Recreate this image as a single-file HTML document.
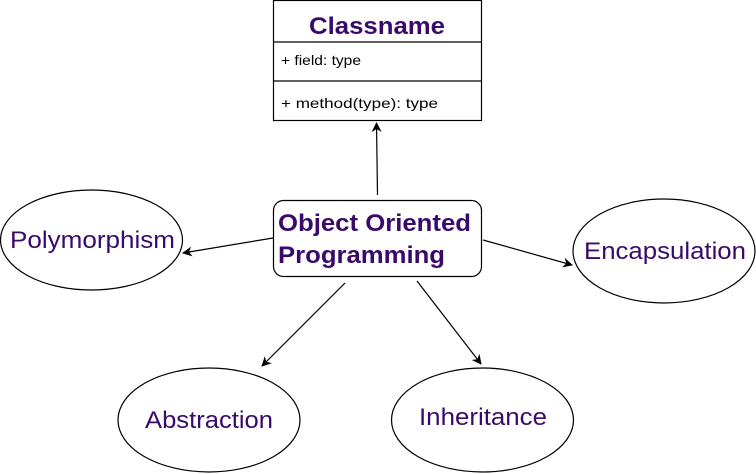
<!DOCTYPE html>
<html><head><meta charset="utf-8"><style>
html,body{margin:0;padding:0;background:#fff;width:756px;height:474px;overflow:hidden}
svg{display:block}
text{font-family:"Liberation Sans",Arial,sans-serif}
</style></head><body>
<svg width="756" height="474" viewBox="0 0 756 474" xmlns="http://www.w3.org/2000/svg">
<defs><marker id="a" markerWidth="10" markerHeight="10" refX="9" refY="5" orient="auto" markerUnits="userSpaceOnUse"><path d="M0,0 L10,5 L0,10 L3,5 Z" fill="#000"/></marker></defs>
<g fill="#fff" stroke="#000" stroke-width="1.2">
<rect x="273.5" y="0.5" width="208" height="120"/>
<line x1="273.5" y1="42" x2="481.5" y2="42"/>
<line x1="273.5" y1="81" x2="481.5" y2="81"/>
<rect x="273.5" y="200.5" width="208" height="76" rx="10"/>
<ellipse cx="91.5" cy="240" rx="91" ry="50"/>
<ellipse cx="664" cy="251" rx="91" ry="52"/>
<ellipse cx="209" cy="420" rx="91" ry="52"/>
<ellipse cx="482.5" cy="420" rx="91" ry="52"/>
</g>
<g stroke="#000" stroke-width="1.2" marker-end="url(#a)">
<line x1="377.5" y1="195" x2="376.5" y2="123"/>
<line x1="273" y1="238" x2="183" y2="253"/>
<line x1="483" y1="240" x2="572" y2="265"/>
<line x1="345" y1="283" x2="262" y2="366"/>
<line x1="417" y1="281" x2="481" y2="364"/>
</g>
<g fill="#3a0a6a" font-size="24" lengthAdjust="spacingAndGlyphs">
<text x="309" y="34" font-weight="bold" textLength="136" lengthAdjust="spacingAndGlyphs">Classname</text>
<text x="278" y="231" font-weight="bold" textLength="193" lengthAdjust="spacingAndGlyphs">Object Oriented</text>
<text x="278" y="263" font-weight="bold" textLength="167" lengthAdjust="spacingAndGlyphs">Programming</text>
<text x="10" y="248" textLength="165" lengthAdjust="spacingAndGlyphs">Polymorphism</text>
<text x="584" y="259" textLength="162" lengthAdjust="spacingAndGlyphs">Encapsulation</text>
<text x="145" y="428" textLength="128" lengthAdjust="spacingAndGlyphs">Abstraction</text>
<text x="419" y="425" textLength="128" lengthAdjust="spacingAndGlyphs">Inheritance</text>
</g>
<g fill="#000" font-size="14">
<text x="281" y="65" textLength="80" lengthAdjust="spacingAndGlyphs">+ field: type</text>
<text x="281" y="108" textLength="157" lengthAdjust="spacingAndGlyphs">+ method(type): type</text>
</g>
</svg>
</body></html>
